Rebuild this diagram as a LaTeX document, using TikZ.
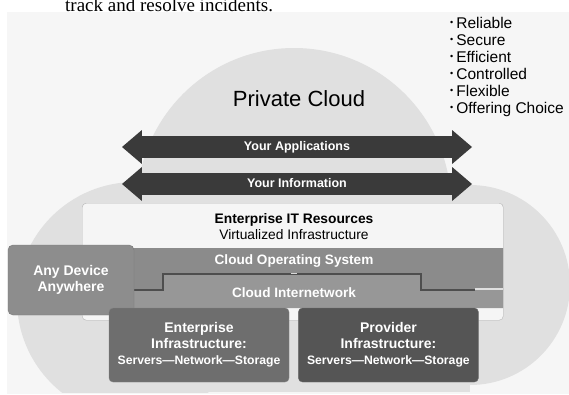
\documentclass[tikz,border=0pt]{standalone}
\usepackage{fontspec}
\setmainfont{Liberation Sans}
\newfontfamily\pageserif{Liberation Serif}
\usetikzlibrary{shapes.arrows, positioning}
\definecolor{pagebg}{HTML}{F6F6F6}
\definecolor{cloudgray}{HTML}{E0E0E0}
\definecolor{arrowgray}{HTML}{3A3A3A}
\definecolor{resfill}{HTML}{F5F5F5}
\definecolor{resline}{HTML}{B4B4B4}
\definecolor{osgray}{HTML}{8B8B8B}
\definecolor{netgray}{HTML}{979797}
\definecolor{stepgray}{HTML}{4E4E4E}
\definecolor{devgray}{HTML}{8D8D8D}
\definecolor{entgray}{HTML}{6E6E6E}
\definecolor{provgray}{HTML}{555555}
\newcommand\qbullet{\raisebox{0.2em}{\fontsize{9}{9}\selectfont\textbullet}\hspace{3pt}}

\begin{document}
\begin{tikzpicture}[x=1pt, y=-1pt]
\tikzstyle{bandarrow} = [double arrow, fill=arrowgray, text=white, font=\fontsize{12.5}{14}\selectfont\bfseries, minimum height=350pt, minimum width=34pt, double arrow head extend=6pt, double arrow tip angle=81, inner ysep=5pt, text height=9pt, text depth=2.5pt]
\tikzstyle{layertext} = [text=white, font=\fontsize{13.6}{16}\selectfont\bfseries]
\tikzstyle{infrabox} = [rectangle, rounded corners=4pt, draw=#1!85!white, fill=#1, text=white, align=center, minimum width=180pt, minimum height=74pt, inner sep=0pt, font=\fontsize{14}{16}\selectfont\bfseries]

\useasboundingbox (0,0) rectangle (569,394);
\fill[white] (0,0) rectangle (569,394);
\fill[pagebg] (7,12) rectangle (569,394);

\node (pagetext) [anchor=base west, inner sep=0pt, font=\pageserif\fontsize{19}{22}\selectfont] at (65,11) {track and resolve incidents.};

\begin{scope}
\clip (0,12) rectangle (569,392);
\fill[cloudgray] (294,205) circle[radius=157pt];
\fill[cloudgray] (135,300) circle[radius=118pt];
\fill[cloudgray] (470,285) circle[radius=100pt];
\fill[cloudgray] (135,200) rectangle (470,392);
\end{scope}

\node (qualities) [anchor=north west, align=left, inner sep=0pt, font=\fontsize{15.5}{17}\selectfont] at (450,17.5) {\qbullet Reliable\\\qbullet Secure\\\qbullet Efficient\\\qbullet Controlled\\\qbullet Flexible\\\qbullet Offering Choice};
\node (cloudtitle) [font=\fontsize{22}{24}\selectfont] at (299,99) {Private Cloud};

\node (apps) [bandarrow] at (297,147) {Your Applications};
\node (info) [bandarrow] at (297,184) {Your Information};

\node (itres) [rectangle, rounded corners=4pt, draw=resline, fill=resfill, anchor=north west, minimum width=421pt, minimum height=117pt, inner sep=0pt] at (82,203) {};
\node (itrestext) [align=center, font=\fontsize{13.8}{16}\selectfont] at (294,227) {\textbf{Enterprise IT Resources}\\Virtualized Infrastructure};

\fill[osgray] (82,248) -- (503,248) -- (503,290) -- (421,290) -- (421,274) -- (163,274) -- (163,290) -- (82,290) -- cycle;
\fill[netgray] (82,290) -- (163,290) -- (163,274) -- (421,274) -- (421,290) -- (503,290) -- (503,308) -- (82,308) -- cycle;
\draw[stepgray, line width=2pt] (82,290) -- (163,290) -- (163,274) -- (421,274) -- (421,290) -- (475,290);
\draw[white!75!gray, line width=1.2pt] (475,289) -- (503,289);
\draw[white!70!gray, line width=1pt] (291,273.5) -- (297,273.5);
\node (os) [layertext] at (294,261) {Cloud Operating System};
\node (net) [layertext] at (294,293) {Cloud Internetwork};

\node (device) [rectangle, rounded corners=5pt, draw=devgray!85!black, fill=devgray, text=white, align=center, minimum width=126pt, minimum height=70pt, inner sep=0pt, font=\fontsize{14}{16}\selectfont\bfseries] at (71,280) {Any Device\\Anywhere};

\node (entinfra) [infrabox=entgray] at (199,345) {Enterprise\\Infrastructure:\\{\fontsize{12.2}{16}\selectfont Servers—Network—Storage}};
\node (provinfra) [infrabox=provgray, right=9pt of entinfra] {Provider\\Infrastructure:\\{\fontsize{12.2}{16}\selectfont Servers—Network—Storage}};
\end{tikzpicture}
\end{document}
